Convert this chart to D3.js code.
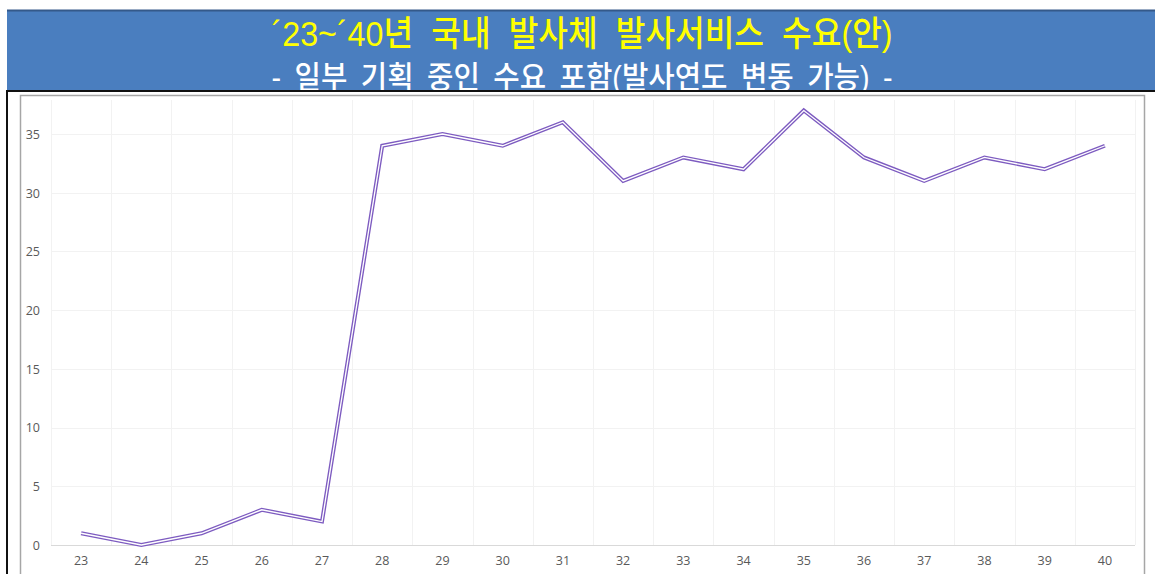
<!DOCTYPE html>
<html>
<head>
<meta charset="utf-8">
<script src="https://cdn.jsdelivr.net/npm/d3@7"></script>
<style>
  html, body { margin: 0; padding: 0; background: #fff; overflow: hidden; }
  svg { display: block; }
</style>
</head>
<body>
<svg id="chart" width="1155" height="574"></svg>
<script>
// Launch demand by year ('23 – '40)
const years = ["23","24","25","26","27","28","29","30","31","32","33","34","35","36","37","38","39","40"];
const demand = [1, 0, 1, 3, 2, 34, 35, 34, 36, 31, 33, 32, 37, 33, 31, 33, 32, 34];
const yTicks = [0, 5, 10, 15, 20, 25, 30, 35];
const titleMain = "´23~´40년 국내 발사체 발사서비스 수요(안)";
const titleSub = "- 일부 기획 중인 수요 포함(발사연도 변동 가능) -";

const W = 1155, H = 574;
const svg = d3.select("#chart");
const titleFont = "'Liberation Sans', 'Noto Sans CJK KR', sans-serif";

// Header banner
svg.append("rect").attr("x", 7).attr("y", 10).attr("width", W - 7).attr("height", 81)
  .attr("fill", "#4a7ebf");
svg.append("line").attr("x1", 7).attr("x2", W).attr("y1", 10.5).attr("y2", 10.5)
  .attr("stroke", "#34598a").attr("stroke-width", 2);

svg.append("text").attr("x", 582).attr("y", 46)
  .attr("text-anchor", "middle")
  .attr("font-family", titleFont)
  .attr("font-size", 35).attr("font-weight", 500)
  .attr("word-spacing", 10)
  .attr("fill", "#ffff00")
  .attr("textLength", 621).attr("lengthAdjust", "spacingAndGlyphs")
  .text(titleMain);

// Subtitle, partly hidden below the banner's lower border
const clip = svg.append("defs").append("clipPath").attr("id", "bannerClip");
clip.append("rect").attr("x", 7).attr("y", 10).attr("width", W - 7).attr("height", 81);
svg.append("text").attr("x", 582).attr("y", 88)
  .attr("clip-path", "url(#bannerClip)")
  .attr("text-anchor", "middle")
  .attr("font-family", titleFont)
  .attr("font-size", 31).attr("font-weight", 500)
  .attr("word-spacing", 6)
  .attr("fill", "#ffffff")
  .attr("textLength", 621).attr("lengthAdjust", "spacingAndGlyphs")
  .text(titleSub);

svg.append("line").attr("x1", 7).attr("x2", W).attr("y1", 91).attr("y2", 91)
  .attr("stroke", "#111").attr("stroke-width", 2);
svg.append("line").attr("x1", 7).attr("x2", 7).attr("y1", 90).attr("y2", H)
  .attr("stroke", "#111").attr("stroke-width", 2);

// Chart frame
svg.append("rect").attr("x", 20.5).attr("y", 95.5).attr("width", 1124).attr("height", 500)
  .attr("fill", "#fff").attr("stroke", "#a6a6a6").attr("stroke-width", 1.5);

// Scales
const plotLeft = 51, plotRight = 1135;
const x = d3.scaleBand().domain(years).range([plotLeft, plotRight]);
const y = d3.scaleLinear().domain([0, 35]).range([545, 134]);

const g = svg.append("g");

// Horizontal gridlines
g.append("g").selectAll("line").data(yTicks.filter(d => d > 0)).join("line")
  .attr("x1", plotLeft).attr("x2", plotRight)
  .attr("y1", d => Math.round(y(d)) + 0.5).attr("y2", d => Math.round(y(d)) + 0.5)
  .attr("stroke", "#f2f2f2").attr("stroke-width", 1);

// Vertical gridlines at category boundaries
const bounds = years.map(d => x(d)).concat([plotRight]);
g.append("g").selectAll("line").data(bounds).join("line")
  .attr("x1", d => Math.round(d) + 0.5).attr("x2", d => Math.round(d) + 0.5)
  .attr("y1", 100).attr("y2", y(0))
  .attr("stroke", "#f2f2f2").attr("stroke-width", 1);

// Category axis line
g.append("line").attr("x1", plotLeft).attr("x2", plotRight)
  .attr("y1", Math.round(y(0)) + 0.5).attr("y2", Math.round(y(0)) + 0.5)
  .attr("stroke", "#d9d9d9").attr("stroke-width", 1);

// Axes labels via d3 axes
const yAxis = d3.axisLeft(y).tickValues(yTicks).tickSize(0).tickPadding(0);
const ya = g.append("g").attr("transform", "translate(40,0)").call(yAxis);
ya.select(".domain").remove();
ya.selectAll("text").attr("font-family", "'Open Sans', sans-serif")
  .attr("font-size", 12.5).attr("fill", "#595959").attr("dy", "0.35em");

const xAxis = d3.axisBottom(x).tickSize(0).tickPadding(0);
const xa = g.append("g").attr("transform", "translate(0,556)").call(xAxis);
xa.select(".domain").remove();
xa.selectAll("text").attr("font-family", "'Open Sans', sans-serif")
  .attr("font-size", 12.5).attr("fill", "#595959").attr("dy", "0.71em");

// Demand line drawn as a double stroke
const line = d3.line()
  .x((d, i) => x(years[i]) + x.bandwidth() / 2)
  .y(d => y(d));

g.append("path").datum(demand).attr("d", line)
  .attr("fill", "none").attr("stroke", "#7d5bc0").attr("stroke-width", 4)
  .attr("stroke-linejoin", "miter");
g.append("path").datum(demand).attr("d", line)
  .attr("fill", "none").attr("stroke", "#ffffff").attr("stroke-width", 1.3)
  .attr("stroke-linejoin", "miter");
</script>
</body>
</html>
